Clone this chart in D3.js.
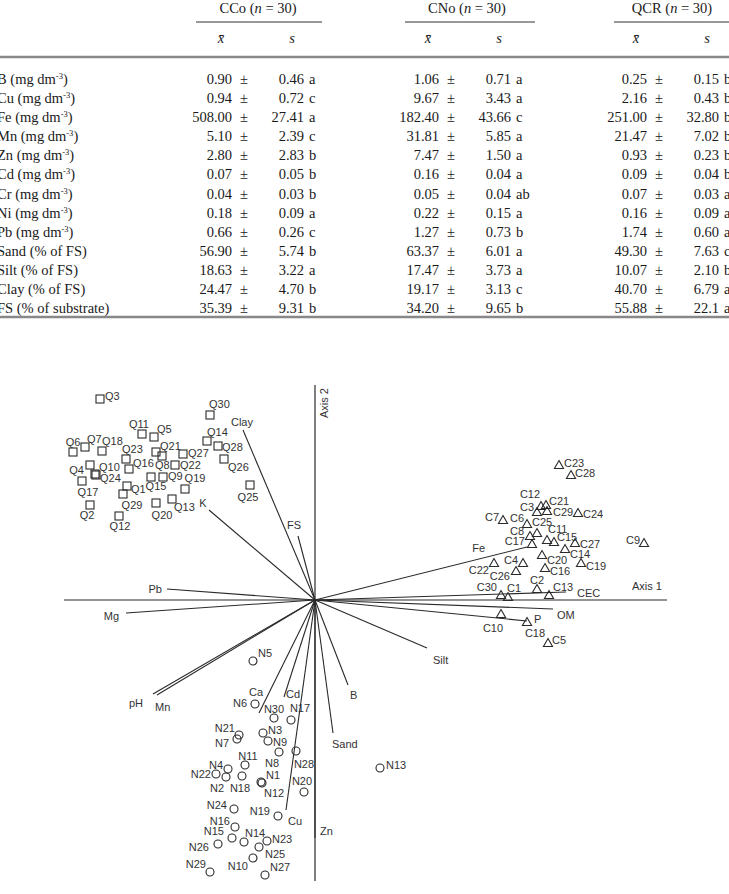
<!DOCTYPE html>
<html>
<head>
<meta charset="utf-8">
<script src="https://cdn.jsdelivr.net/npm/d3@7"></script>
<style>
  body { margin: 0; background: #fff; }
  svg { display: block; }
  .tbl text { font-family: "Liberation Serif", "Times New Roman", serif; font-size: 14.5px; fill: #1a1a1a; }
  .plot text { font-family: "Liberation Sans", Arial, sans-serif; font-size: 11px; fill: #333; }
</style>
</head>
<body>
<script>
'use strict';

// ---- table data ----
var groups = ["CCo", "CNo", "QCR"];
var rowVars = ["B", "Cu", "Fe", "Mn", "Zn", "Cd", "Cr", "Ni", "Pb", "Sand", "Silt", "Clay", "FS"];
var rowUnits = ["mg dm", "mg dm", "mg dm", "mg dm", "mg dm", "mg dm", "mg dm", "mg dm", "mg dm",
  "% of FS", "% of FS", "% of FS", "% of substrate"];

var ccoMean = ["0.90", "0.94", "508.00", "5.10", "2.80", "0.07", "0.04", "0.18", "0.66", "56.90", "18.63", "24.47", "35.39"];
var ccoSd = ["0.46", "0.72", "27.41", "2.39", "2.83", "0.05", "0.03", "0.09", "0.26", "5.74", "3.22", "4.70", "9.31"];
var ccoLetter = ["a", "c", "a", "c", "b", "b", "b", "a", "c", "b", "a", "b", "b"];

var cnoMean = ["1.06", "9.67", "182.40", "31.81", "7.47", "0.16", "0.05", "0.22", "1.27", "63.37", "17.47", "19.17", "34.20"];
var cnoSd = ["0.71", "3.43", "43.66", "5.85", "1.50", "0.04", "0.04", "0.15", "0.73", "6.01", "3.73", "3.13", "9.65"];
var cnoLetter = ["a", "a", "c", "a", "a", "a", "ab", "a", "b", "a", "a", "c", "b"];

var qcrMean = ["0.25", "2.16", "251.00", "21.47", "0.93", "0.09", "0.07", "0.16", "1.74", "49.30", "10.07", "40.70", "55.88"];
var qcrSd = ["0.15", "0.43", "32.80", "7.02", "0.23", "0.04", "0.03", "0.09", "0.60", "7.63", "2.10", "6.79", "22.1"];
var qcrLetter = ["b", "b", "b", "b", "b", "b", "a", "a", "a", "c", "b", "a", "a"];

// ---- biplot data (axis 1, axis 2 scores) ----
var qSites = [
  ["Q1", -1.88, 1.14], ["Q2", -2.25, 0.95], ["Q3", -2.15, 2.01], ["Q4", -2.25, 1.35], ["Q5", -1.61, 1.63],
  ["Q6", -2.42, 1.48], ["Q7", -2.30, 1.53], ["Q8", -1.53, 1.44], ["Q9", -1.52, 1.23], ["Q10", -2.20, 1.26],
  ["Q11", -1.73, 1.66], ["Q12", -1.96, 0.84], ["Q13", -1.43, 1.01], ["Q14", -1.08, 1.59], ["Q15", -1.64, 1.23],
  ["Q16", -1.86, 1.31], ["Q17", -2.33, 1.19], ["Q18", -2.13, 1.49], ["Q19", -1.30, 1.11], ["Q20", -1.59, 0.97],
  ["Q21", -1.59, 1.48], ["Q22", -1.40, 1.35], ["Q23", -1.89, 1.41], ["Q24", -2.19, 1.25], ["Q25", -0.65, 1.15],
  ["Q26", -0.91, 1.41], ["Q27", -1.32, 1.46], ["Q28", -0.97, 1.54], ["Q29", -1.92, 1.06], ["Q30", -1.05, 1.85]
];
var cSites = [
  ["C1", 1.93, 0.03], ["C2", 2.22, 0.11], ["C3", 2.22, 0.88], ["C4", 2.08, 0.37], ["C5", 2.33, -0.43],
  ["C6", 2.12, 0.76], ["C7", 1.88, 0.80], ["C8", 2.15, 0.64], ["C9", 3.29, 0.57], ["C10", 1.86, -0.14],
  ["C11", 2.32, 0.60], ["C12", 2.26, 0.94], ["C13", 2.34, 0.05], ["C14", 2.50, 0.51], ["C15", 2.39, 0.58],
  ["C16", 2.30, 0.32], ["C17", 2.17, 0.56], ["C18", 2.12, -0.22], ["C19", 2.66, 0.37], ["C20", 2.27, 0.45],
  ["C21", 2.31, 0.95], ["C22", 1.79, 0.37], ["C23", 2.44, 1.35], ["C24", 2.63, 0.87], ["C25", 2.22, 0.67],
  ["C26", 2.01, 0.29], ["C27", 2.60, 0.57], ["C28", 2.56, 1.25], ["C29", 2.32, 0.89], ["C30", 1.86, 0.05]
];
var nSites = [
  ["N1", -0.54, -1.82], ["N2", -0.89, -1.77], ["N3", -0.52, -1.33], ["N4", -0.87, -1.69], ["N5", -0.62, -0.61],
  ["N6", -0.60, -1.04], ["N7", -0.78, -1.39], ["N8", -0.36, -1.52], ["N9", -0.47, -1.41], ["N10", -0.62, -2.58],
  ["N11", -0.70, -1.65], ["N12", -0.53, -1.83], ["N13", 0.65, -1.68], ["N14", -0.71, -2.42], ["N15", -0.83, -2.38],
  ["N16", -0.80, -2.27], ["N17", -0.24, -1.20], ["N18", -0.73, -1.76], ["N19", -0.37, -2.16], ["N20", -0.11, -1.92],
  ["N21", -0.76, -1.35], ["N22", -0.99, -1.74], ["N23", -0.48, -2.41], ["N24", -0.81, -2.09], ["N25", -0.56, -2.47],
  ["N26", -0.97, -2.44], ["N27", -0.50, -2.75], ["N28", -0.19, -1.51], ["N29", -1.05, -2.72], ["N30", -0.41, -1.18]
];
var vecNames = ["Clay", "FS", "K", "Pb", "Mg", "pH", "Mn", "Ca", "Cd", "B", "Sand", "Zn", "Cu", "Silt", "P", "OM", "CEC", "Fe"];
var vecAxis1 = [-0.72, -0.17, -1.06, -1.48, -1.89, -1.62, -1.58, -0.56, -0.31, 0.33, 0.18, 0.00, -0.29, 1.12, 2.12, 2.38, 2.51, 2.12];
var vecAxis2 = [1.70, 0.64, 0.90, 0.11, -0.13, -0.94, -0.95, -1.13, -0.97, -0.85, -1.33, -2.38, -2.10, -0.48, -0.21, -0.09, 0.08, 0.53];

// label placement: [anchor, dx, dy] relative to the mark
var labelPos = {
  Q1: ["s", 4, 3], Q2: ["m", -3, 10], Q3: ["s", 5, -3], Q4: ["e", -6, 5], Q5: ["s", 3, -8],
  Q6: ["m", 0, -10], Q7: ["s", 2, -8], Q8: ["s", -7, 9], Q9: ["s", 5, -1], Q10: ["s", 4, -7],
  Q11: ["m", -3, -10], Q12: ["m", 1, 10], Q13: ["s", 2, 8], Q14: ["s", 0, -9], Q15: ["m", 5, 9],
  Q16: ["s", 4, -6], Q17: ["m", 6, 11], Q18: ["s", 0, -10], Q19: ["m", 10, -11], Q20: ["m", 6, 12],
  Q21: ["s", 4, -6], Q22: ["s", 5, 0], Q23: ["s", -4, -10], Q24: ["s", 4, 3], Q25: ["m", -2, 12],
  Q26: ["s", 4, 8], Q27: ["s", 5, -1], Q28: ["s", 4, 1], Q29: ["m", 9, 11], Q30: ["s", -1, -11],
  C1: ["s", -1, -9], C2: ["m", 0, -9], C3: ["e", -3, -5], C4: ["e", -5, -3], C5: ["s", 4, -3],
  C6: ["e", -3, -6], C7: ["e", -4, -3], C8: ["e", -6, -5], C9: ["e", -4, -3], C10: ["m", -8, 14],
  C11: ["s", 1, -11], C12: ["m", -11, -12], C13: ["s", 4, -8], C14: ["s", 5, 5], C15: ["s", 3, -5],
  C16: ["s", 5, 3], C17: ["e", -7, -3], C18: ["m", 8, 11], C19: ["s", 5, 3], C20: ["s", 5, 5],
  C21: ["s", 3, -4], C22: ["e", -5, 7], C23: ["s", 5, -2], C24: ["s", 5, 1], C25: ["s", -5, -11],
  C26: ["e", -6, 5], C27: ["s", 5, 1], C28: ["s", 4, -2], C29: ["s", 6, 1], C30: ["e", -4, -8],
  N1: ["s", 5, -7], N2: ["m", -9, 11], N3: ["s", 5, -3], N4: ["e", -5, -4], N5: ["s", 5, -8],
  N6: ["e", -8, -1], N7: ["e", -8, 4], N8: ["m", -7, 11], N9: ["s", 5, 1], N10: ["e", -5, 8],
  N11: ["m", 3, -9], N12: ["s", 2, 10], N13: ["s", 6, -3], N14: ["s", 1, -9], N15: ["e", -8, -7],
  N16: ["e", -5, -6], N17: ["m", 9, -12], N18: ["m", -2, 12], N19: ["e", -8, -5], N20: ["m", -2, -11],
  N21: ["e", -4, -7], N22: ["e", -5, 0], N23: ["s", 5, -2], N24: ["e", -7, -4], N25: ["s", 6, 7],
  N26: ["e", -9, 3], N27: ["s", 5, -8], N28: ["m", 8, 13], N29: ["e", -4, -8], N30: ["m", 0, -9],
  Clay: ["m", -1, -8], FS: ["m", -4, -11], K: ["m", -6, -7], Pb: ["e", -5, 0], Mg: ["e", -7, 3],
  pH: ["e", -10, 9], Mn: ["s", -2, 12], Ca: ["m", -3, -21], Cd: ["s", 2, -3], B: ["s", 2, 10],
  Sand: ["s", -1, 11], Zn: ["s", 5, -7], Cu: ["s", 2, 11], Silt: ["s", 6, 12], P: ["s", 7, -2],
  OM: ["s", 4, 6], CEC: ["s", 11, 1], Fe: ["e", -42, 1]
};

var W = 729, H = 894;
var svg = d3.select("body").append("svg").attr("width", W).attr("height", H);
var anchorMap = {s: "start", m: "middle", e: "end"};

// ---------------- table ----------------
var tbl = svg.append("g").attr("class", "tbl");
var groupCols = [
  {title: groups[0], mean: ccoMean, sd: ccoSd, letter: ccoLetter, x: 232, lineX: [196, 322], cx: 258},
  {title: groups[1], mean: cnoMean, sd: cnoSd, letter: cnoLetter, x: 439, lineX: [405, 535], cx: 467},
  {title: groups[2], mean: qcrMean, sd: qcrSd, letter: qcrLetter, x: 647, lineX: [614, 740], cx: 672}
];
var rowY = d3.scaleLinear().domain([0, rowVars.length - 1]).range([84, 313]);

groupCols.forEach(function(g) {
  var t = tbl.append("text").attr("x", g.cx).attr("y", 13).attr("text-anchor", "middle");
  t.append("tspan").text(g.title + " (");
  t.append("tspan").attr("font-style", "italic").text("n");
  t.append("tspan").text(" = 30)");
  tbl.append("line").attr("x1", g.lineX[0]).attr("x2", g.lineX[1]).attr("y1", 22).attr("y2", 22)
    .attr("stroke", "#333").attr("stroke-width", 1);
  tbl.append("text").attr("x", g.x - 11).attr("y", 43).attr("text-anchor", "middle")
    .attr("font-style", "italic").text("x\u0304");
  tbl.append("text").attr("x", g.x + 60).attr("y", 43).attr("text-anchor", "middle")
    .attr("font-style", "italic").text("s");

  rowVars.forEach(function(v, i) {
    var y = rowY(i);
    tbl.append("text").attr("x", g.x).attr("y", y).attr("text-anchor", "end").text(g.mean[i]);
    tbl.append("text").attr("x", g.x + 12).attr("y", y).attr("text-anchor", "middle").text("\u00b1");
    tbl.append("text").attr("x", g.x + 72).attr("y", y).attr("text-anchor", "end").text(g.sd[i]);
    tbl.append("text").attr("x", g.x + 77).attr("y", y).text(g.letter[i]);
  });
});

rowVars.forEach(function(v, i) {
  var t = tbl.append("text").attr("x", -3).attr("y", rowY(i));
  t.append("tspan").text(v + " (" + rowUnits[i]);
  if (rowUnits[i] === "mg dm") {
    t.append("tspan").attr("font-size", "8.5px").attr("dy", -5).text("-3");
    t.append("tspan").attr("dy", 5).text(")");
  } else {
    t.append("tspan").text(")");
  }
});

tbl.append("line").attr("x1", 0).attr("x2", W).attr("y1", 57).attr("y2", 57)
  .attr("stroke", "#888").attr("stroke-width", 2.5);
tbl.append("line").attr("x1", 0).attr("x2", W).attr("y1", 317).attr("y2", 317)
  .attr("stroke", "#888").attr("stroke-width", 2.5);

// ---------------- biplot ----------------
var plot = svg.append("g").attr("class", "plot");
var x = d3.scaleLinear().domain([-2.51, 3.52]).range([64, 667]);
var y = d3.scaleLinear().domain([2.15, -2.81]).range([385, 881]);

var ink = "#2a2a2a";

// axes
plot.append("line").attr("x1", x(-2.51)).attr("x2", x(3.52)).attr("y1", y(0)).attr("y2", y(0))
  .attr("stroke", ink).attr("stroke-width", 1.2);
plot.append("line").attr("x1", x(0)).attr("x2", x(0)).attr("y1", y(2.15)).attr("y2", y(-2.81))
  .attr("stroke", ink).attr("stroke-width", 1.2);
plot.append("text").attr("x", x(3.17)).attr("y", y(0) - 10).text("Axis 1");
plot.append("text").attr("transform", "translate(" + (x(0) + 13) + "," + (y(2.15) + 3) + ") rotate(-90)")
  .attr("text-anchor", "end").text("Axis 2");

// environmental vectors
var vecs = vecNames.map(function(n, i) { return {name: n, a1: vecAxis1[i], a2: vecAxis2[i]}; });
plot.selectAll(".vec").data(vecs).enter().append("line")
  .attr("class", "vec")
  .attr("x1", x(0)).attr("y1", y(0))
  .attr("x2", function(d) { return x(d.a1); })
  .attr("y2", function(d) { return y(d.a2); })
  .attr("stroke", ink).attr("stroke-width", 1.1);

// site markers
function site(arr) { return arr.map(function(d) { return {name: d[0], a1: d[1], a2: d[2]}; }); }
var qs = site(qSites), cs = site(cSites), ns = site(nSites);

plot.selectAll(".q").data(qs).enter().append("rect")
  .attr("x", function(d) { return x(d.a1) - 4; })
  .attr("y", function(d) { return y(d.a2) - 4; })
  .attr("width", 8).attr("height", 8)
  .attr("fill", "none").attr("stroke", ink).attr("stroke-width", 1.1);

plot.selectAll(".c").data(cs).enter().append("path")
  .attr("d", d3.symbol().type(d3.symbolTriangle).size(36))
  .attr("transform", function(d) { return "translate(" + x(d.a1) + "," + (y(d.a2) + 0.8) + ")"; })
  .attr("fill", "none").attr("stroke", ink).attr("stroke-width", 1.1);

plot.selectAll(".n").data(ns).enter().append("circle")
  .attr("cx", function(d) { return x(d.a1); })
  .attr("cy", function(d) { return y(d.a2); })
  .attr("r", 4)
  .attr("fill", "none").attr("stroke", ink).attr("stroke-width", 1.1);

// labels
var allLabels = qs.concat(cs, ns, vecs);
plot.selectAll(".lbl").data(allLabels).enter().append("text")
  .attr("text-anchor", function(d) { return anchorMap[labelPos[d.name][0]]; })
  .attr("x", function(d) { return x(d.a1) + labelPos[d.name][1]; })
  .attr("y", function(d) { return y(d.a2) + labelPos[d.name][2] + 4; })
  .text(function(d) { return d.name; });
</script>
</body>
</html>
